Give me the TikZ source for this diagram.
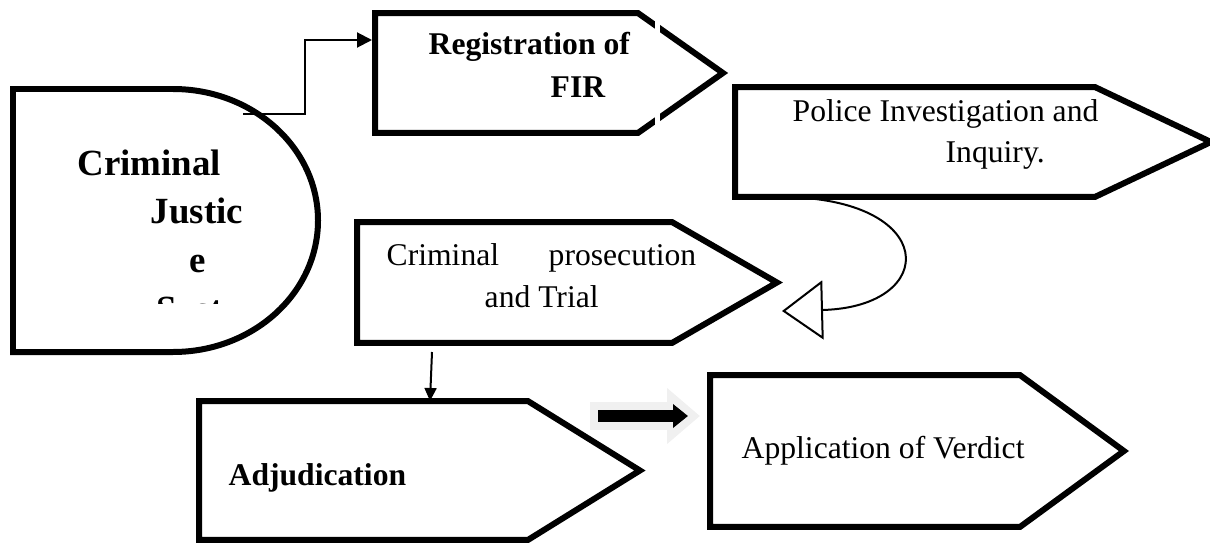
\documentclass[tikz,border=0pt]{standalone}
\usepackage{fontspec}
\setmainfont{Liberation Serif}
\usetikzlibrary{shapes.symbols,arrows.meta,calc}

\begin{document}
\begin{tikzpicture}[x=0.02cm, y=-0.02cm, thick]

    \tikzset{stage/.style={%
      draw,%
      signal,%
      signal to=east,%
      anchor=west,%
      inner sep=0pt,%
      line width=0.12cm}%
    };

    \tikzset{txt/.style={anchor=base west, inner sep=0pt, font=\fontsize{18}{21}\selectfont}};
    \tikzset{txtb/.style={txt, font=\fontsize{18}{21}\selectfont\bfseries}};
    \tikzset{bigtxt/.style={txt, font=\fontsize{21}{25}\selectfont\bfseries}};
    \tikzset{link/.style={line width=0.04cm, -{Triangle[length=0.3cm, width=0.3cm]}}};

    \useasboundingbox (0,0) rectangle (1210,544);

    %%%%%%%%%%%%%%%%%%%%%%%%%%%
    % criminal justice system %
    %%%%%%%%%%%%%%%%%%%%%%%%%%%
    \draw [line width=0.12cm] (13,89) -- (173,89)
      arc [start angle=-90, end angle=90, x radius=145, y radius=131.5]
      -- (13,352) -- cycle;

    \path (77,175) node [bigtxt] (cjs1) {Criminal};
    \path (150,223) node [bigtxt] (cjs2) {Justic};
    \path (189,272) node [bigtxt] (cjs3) {e};
    \begin{scope}
      \clip (100,285) rectangle (280,303);
      \path (156,321) node [bigtxt] (cjs4) {Syst};
    \end{scope}
    \coordinate (cjsout) at (243,114);

    %%%%%%%%%%
    % stages %
    %%%%%%%%%%
    \path (372,73) node [stage, minimum width=6.96cm, minimum height=2.4cm, signal pointer angle=70.4] (fir) {};
    \path (732,142) node [stage, minimum width=9.52cm, minimum height=2.2cm, signal pointer angle=50.7] (police) {};
    \path (354,282.5) node [stage, minimum width=8.4cm, minimum height=2.42cm, signal pointer angle=59.9] (trial) {};
    \path (196,470.5) node [stage, minimum width=8.82cm, minimum height=2.78cm, signal pointer angle=63.6] (adj) {};
    \path (707,451) node [stage, minimum width=8.28cm, minimum height=3.04cm, signal pointer angle=72.3] (verdict) {};

    \fill [white] (655,18) rectangle (660,128);

    \path (428,55) node [txtb] (fir1) {Registration of};
    \path (550,98) node [txtb] (fir2) {FIR};
    \path (792,122) node [txt] (police1) {Police Investigation and};
    \path (945,162) node [txt] (police2) {Inquiry.};
    \path (386,265) node [txt] (trial1) {Criminal};
    \path (548,265) node [txt] (trial2) {prosecution};
    \path (484,307) node [txt] (trial3) {and Trial};
    \path (228,485) node [txtb] (adj1) {Adjudication};
    \path (741,458) node [txt] (verdict1) {Application of Verdict};

    %%%%%%%%%%
    % arrows %
    %%%%%%%%%%
    \draw [link] (cjsout) -- ++(62,0) |- ($(fir.west)+(0,-33)$);

    \draw [line width=0.04cm, -{Triangle[open, length=0.82cm, width=1.18cm]}]
      ($(police.west)+(48,55)$) .. controls +(160,0) and +(158,-4) .. ($(trial.west)+(428,28.5)$);

    \draw [line width=0.04cm, -{Triangle[length=0.26cm, width=0.24cm]}]
      ($(trial.west)+(78,69.5)$) -- ($(adj.west)+(234,-69.5)$);

    \draw [line width=0.56cm, black!6, -{Triangle[length=0.66cm, width=1.08cm]}]
      ($(verdict.west)+(-117,-35)$) -- ($(verdict.west)+(-7,-35)$);
    \draw [line width=0.24cm, -{Triangle[length=0.3cm, width=0.46cm]}]
      ($(verdict.west)+(-109,-35)$) -- ($(verdict.west)+(-19,-35)$);

  \end{tikzpicture}
\end{document}
